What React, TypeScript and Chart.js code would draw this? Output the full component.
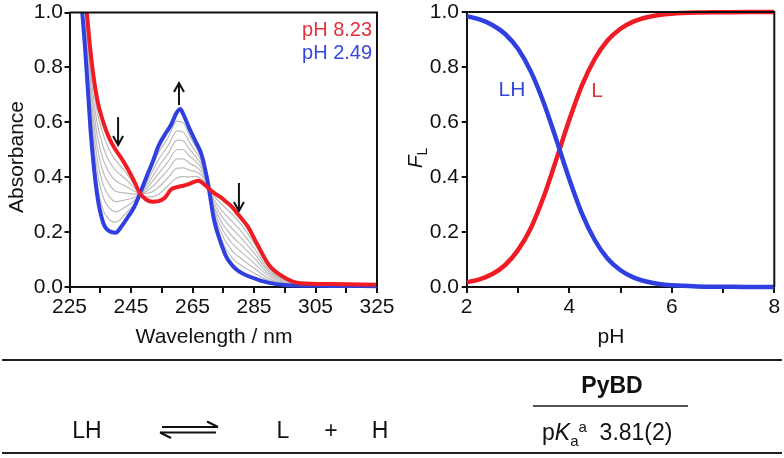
import React, { useEffect, useRef } from "react";
import { Chart, registerables } from "chart.js";

Chart.register(...registerables);

const FONT = '"Liberation Sans", Arial, Helvetica, sans-serif';
const RED = "#f01c24";
const BLUE = "#2f3fe0";
const RED_TEXT = "#e2303c";
const BLUE_TEXT = "#3448dc";
const GRAY = "#bcbcbc";
const INK = "#111111";

// ---------- Left panel: UV spectra ----------
const RED_NM = [230, 232, 234, 236, 238, 240, 242, 244, 246, 248, 250, 252, 254, 256, 258, 260, 262, 264, 266, 267, 268, 270, 272, 274, 276, 278, 280, 283, 286, 290, 295, 300, 310, 325];
const RED_ABS = [1.08, 0.841, 0.684, 0.6, 0.54, 0.5, 0.467, 0.429, 0.386, 0.34, 0.318, 0.311, 0.313, 0.325, 0.355, 0.364, 0.369, 0.376, 0.385, 0.387, 0.381, 0.362, 0.343, 0.328, 0.31, 0.29, 0.262, 0.22, 0.157, 0.078, 0.034, 0.014, 0.011, 0.008];

const BLUE_NM = [229, 230, 231, 232, 234, 236, 238, 240, 242, 244, 246, 248, 250, 252, 254, 256, 258, 260, 261, 262, 264, 266, 268, 270, 272, 274, 276, 278, 280, 283, 286, 290, 295, 300, 310, 325];
const BLUE_ABS = [1.02, 0.88, 0.715, 0.55, 0.335, 0.233, 0.203, 0.198, 0.222, 0.255, 0.29, 0.343, 0.4, 0.455, 0.515, 0.555, 0.59, 0.638, 0.648, 0.63, 0.577, 0.53, 0.48, 0.38, 0.245, 0.168, 0.11, 0.078, 0.058, 0.04, 0.028, 0.015, 0.007, 0.005, 0.004, 0.003];

const GRAY_NM = [230, 232, 234, 236, 238, 240, 243, 246, 248, 251, 254, 257, 260, 262, 264, 266, 268, 270, 272, 275, 278, 281, 285, 290, 295, 305, 325];
const GRAY_1 = [1.055, 0.805, 0.64, 0.554, 0.498, 0.462, 0.422, 0.374, 0.34, 0.328, 0.338, 0.369, 0.398, 0.402, 0.401, 0.403, 0.393, 0.364, 0.331, 0.296, 0.264, 0.225, 0.16, 0.068, 0.027, 0.01, 0.007];
const GRAY_2 = [1.03, 0.768, 0.597, 0.508, 0.456, 0.425, 0.396, 0.362, 0.341, 0.343, 0.364, 0.398, 0.433, 0.434, 0.426, 0.421, 0.406, 0.367, 0.318, 0.273, 0.237, 0.201, 0.142, 0.06, 0.025, 0.01, 0.007];
const GRAY_3 = [1.005, 0.732, 0.553, 0.462, 0.414, 0.387, 0.369, 0.35, 0.341, 0.357, 0.389, 0.427, 0.467, 0.467, 0.451, 0.439, 0.418, 0.369, 0.306, 0.25, 0.211, 0.176, 0.124, 0.053, 0.022, 0.009, 0.006];
const GRAY_4 = [0.98, 0.696, 0.51, 0.417, 0.372, 0.349, 0.343, 0.338, 0.341, 0.371, 0.414, 0.456, 0.501, 0.5, 0.477, 0.458, 0.431, 0.371, 0.294, 0.227, 0.184, 0.151, 0.106, 0.045, 0.019, 0.008, 0.006];
const GRAY_5 = [0.955, 0.659, 0.466, 0.371, 0.329, 0.311, 0.317, 0.326, 0.342, 0.385, 0.439, 0.485, 0.535, 0.532, 0.502, 0.476, 0.443, 0.373, 0.282, 0.204, 0.158, 0.126, 0.087, 0.038, 0.016, 0.007, 0.005];
const GRAY_6 = [0.93, 0.623, 0.422, 0.325, 0.287, 0.274, 0.291, 0.314, 0.342, 0.4, 0.465, 0.514, 0.569, 0.565, 0.527, 0.494, 0.455, 0.376, 0.27, 0.181, 0.131, 0.102, 0.069, 0.03, 0.013, 0.006, 0.004];
const GRAY_7 = [0.905, 0.586, 0.379, 0.279, 0.245, 0.236, 0.264, 0.302, 0.343, 0.414, 0.49, 0.543, 0.604, 0.598, 0.552, 0.512, 0.468, 0.378, 0.257, 0.158, 0.105, 0.077, 0.051, 0.023, 0.01, 0.005, 0.004];
const GRAY_SERIES = [GRAY_1, GRAY_2, GRAY_3, GRAY_4, GRAY_5, GRAY_6, GRAY_7];

const NM_TICKS = [225, 235, 245, 255, 265, 275, 285, 295, 305, 315, 325];
const NM_LABELS = [225, 245, 265, 285, 305, 325];
const ABS_TICKS = [0, 0.2, 0.4, 0.6, 0.8, 1.0];

const SPECTRA_LABELS = [
  { text: "pH 8.23", x: 323.4, y: 0.933, color: RED_TEXT },
  { text: "pH 2.49", x: 323.4, y: 0.849, color: BLUE_TEXT },
];
const SPECTRA_ARROWS = [
  { x: 240.8, from: 0.619, to: 0.517 },
  { x: 260.6, from: 0.663, to: 0.743 },
  { x: 280.1, from: 0.379, to: 0.277 },
];

// ---------- Right panel: speciation ----------
const PH = [2, 2.25, 2.5, 2.75, 3, 3.25, 3.5, 3.75, 4, 4.25, 4.5, 4.75, 5, 5.25, 5.5, 5.75, 6, 6.5, 7, 7.5, 8];
const FRAC_L = [0.017, 0.028, 0.047, 0.08, 0.134, 0.214, 0.327, 0.465, 0.607, 0.734, 0.83, 0.897, 0.939, 0.965, 0.98, 0.989, 0.994, 0.998, 0.999, 1.0, 1.0];
const FRAC_LH = [0.985, 0.973, 0.953, 0.92, 0.866, 0.784, 0.671, 0.535, 0.393, 0.266, 0.17, 0.103, 0.061, 0.035, 0.02, 0.011, 0.006, 0.002, 0.001, 0.0, 0.0];

const PH_TICKS = [2, 3, 4, 5, 6, 7, 8];
const PH_LABELS = [2, 4, 6, 8];
const FRAC_TICKS = [0, 0.2, 0.4, 0.6, 0.8, 1.0];

const SPECIES_LABELS = [
  { text: "LH", x: 2.884, y: 0.716, color: BLUE_TEXT },
  { text: "L", x: 4.545, y: 0.713, color: RED_TEXT },
];

const toXY = (xs: number[], ys: number[]) => xs.map((x, i) => ({ x, y: ys[i] }));

function xAxis(min: number, max: number, ticks: number[], labels: number[]) {
  return {
    type: "linear",
    position: "bottom",
    min,
    max,
    afterBuildTicks: (s: any) => {
      s.ticks = ticks.map((v) => ({ value: v }));
    },
    afterFit: (s: any) => {
      s.height = 63;
      s.paddingLeft = 0;
      s.paddingRight = 0;
    },
    ticks: {
      autoSkip: false,
      maxRotation: 0,
      minRotation: 0,
      padding: 1.5,
      color: INK,
      font: { family: FONT, size: 21 },
      callback: (v: any) => (labels.includes(Number(v)) ? String(v) : ""),
    },
    grid: { drawOnChartArea: false, drawTicks: true, tickLength: 6, color: INK, lineWidth: 2 },
    border: { display: true, color: INK, width: 2 },
  };
}

function yAxis(ticks: number[], width: number, pad: number) {
  return {
    type: "linear",
    position: "left",
    min: 0,
    max: 1,
    afterBuildTicks: (s: any) => {
      s.ticks = ticks.map((v) => ({ value: v }));
    },
    afterFit: (s: any) => {
      s.width = width;
      s.paddingTop = 0;
      s.paddingBottom = 0;
    },
    ticks: {
      autoSkip: false,
      padding: pad,
      color: INK,
      font: { family: FONT, size: 21 },
      callback: (v: any) => Number(v).toFixed(1),
    },
    grid: { drawOnChartArea: false, drawTicks: true, tickLength: 5, color: INK, lineWidth: 2 },
    border: { display: true, color: INK, width: 2 },
  };
}

function drawBox(chart: any) {
  const { ctx, chartArea: a } = chart;
  ctx.save();
  ctx.strokeStyle = INK;
  ctx.lineWidth = 2;
  ctx.beginPath();
  ctx.moveTo(a.left, a.top);
  ctx.lineTo(a.right, a.top);
  ctx.lineTo(a.right, a.bottom);
  ctx.stroke();
  ctx.restore();
}

function drawText(ctx: any, text: string, x: number, y: number, size: number, color: string, align = "center", rot = 0, style = "") {
  ctx.save();
  ctx.translate(x, y);
  if (rot) ctx.rotate(rot);
  ctx.font = `${style}${size}px ${FONT}`;
  ctx.fillStyle = color;
  ctx.textAlign = align;
  ctx.textBaseline = "middle";
  ctx.fillText(text, 0, 0);
  ctx.restore();
}

const spectraPlugin = {
  id: "spectraDecor",
  afterDraw(chart: any) {
    const { ctx, scales } = chart;
    const sx = scales.x;
    const sy = scales.y;
    drawBox(chart);
    SPECTRA_LABELS.forEach((l) => {
      drawText(ctx, l.text, sx.getPixelForValue(l.x), sy.getPixelForValue(l.y), 20, l.color, "right");
    });
    ctx.save();
    ctx.strokeStyle = INK;
    ctx.lineWidth = 2;
    SPECTRA_ARROWS.forEach((a) => {
      const xp = sx.getPixelForValue(a.x);
      const y0 = sy.getPixelForValue(a.from);
      const y1 = sy.getPixelForValue(a.to);
      const dir = Math.sign(y1 - y0);
      ctx.beginPath();
      ctx.moveTo(xp, y0);
      ctx.lineTo(xp, y1);
      ctx.stroke();
      ctx.beginPath();
      ctx.moveTo(xp - 5, y1 - dir * 9);
      ctx.lineTo(xp, y1);
      ctx.lineTo(xp + 5, y1 - dir * 9);
      ctx.stroke();
    });
    ctx.restore();
    drawText(ctx, "Wavelength / nm", 214, 337, 21, INK);
    drawText(ctx, "Absorbance", 17.5, 157, 21, INK, "center", -Math.PI / 2);
  },
};

const speciesPlugin = {
  id: "speciesDecor",
  afterDraw(chart: any) {
    const { ctx, scales } = chart;
    const sx = scales.x;
    const sy = scales.y;
    drawBox(chart);
    SPECIES_LABELS.forEach((l) => {
      drawText(ctx, l.text, sx.getPixelForValue(l.x), sy.getPixelForValue(l.y), 21, l.color, "center");
    });
    drawText(ctx, "pH", 219, 337, 21, INK);
    ctx.save();
    ctx.translate(30, 158);
    ctx.rotate(-Math.PI / 2);
    ctx.fillStyle = INK;
    ctx.textBaseline = "alphabetic";
    ctx.textAlign = "left";
    ctx.font = `italic 21px ${FONT}`;
    const wF = ctx.measureText("F").width;
    ctx.font = `14px ${FONT}`;
    const wL = ctx.measureText("L").width;
    const x0 = -(wF + wL) / 2;
    ctx.font = `italic 21px ${FONT}`;
    ctx.fillText("F", x0, 0);
    ctx.font = `14px ${FONT}`;
    ctx.fillText("L", x0 + wF, 5);
    ctx.restore();
  },
};

const lineDefaults = {
  pointRadius: 0,
  pointHoverRadius: 0,
  fill: false,
  cubicInterpolationMode: "monotone",
  borderJoinStyle: "round",
  clip: { left: 0, top: 0, right: 0, bottom: 4 },
};

export default function App() {
  const leftRef = useRef<HTMLCanvasElement>(null);
  const rightRef = useRef<HTMLCanvasElement>(null);

  useEffect(() => {
    const left = new Chart(leftRef.current as HTMLCanvasElement, {
      type: "line",
      data: {
        datasets: [
          { ...lineDefaults, label: "pH 8.23", data: toXY(RED_NM, RED_ABS), borderColor: RED, borderWidth: 4 },
          { ...lineDefaults, label: "pH 2.49", data: toXY(BLUE_NM, BLUE_ABS), borderColor: BLUE, borderWidth: 4 },
          ...GRAY_SERIES.map((g, i) => ({
            ...lineDefaults,
            label: `intermediate ${i + 1}`,
            data: toXY(GRAY_NM, g),
            borderColor: GRAY,
            borderWidth: 1.2,
          })),
        ],
      } as any,
      options: {
        responsive: false,
        animation: false,
        events: [],
        layout: { padding: { left: 0, right: 33, top: 12.5, bottom: 0 } },
        plugins: { legend: { display: false }, tooltip: { enabled: false }, title: { display: false } },
        scales: {
          x: xAxis(225, 325, NM_TICKS, NM_LABELS),
          y: yAxis(ABS_TICKS, 69.5, 1.5),
        },
      } as any,
      plugins: [spectraPlugin],
    });

    const right = new Chart(rightRef.current as HTMLCanvasElement, {
      type: "line",
      data: {
        datasets: [
          { ...lineDefaults, label: "LH", data: toXY(PH, FRAC_LH), borderColor: BLUE, borderWidth: 4.5, clip: { left: 0, top: 4, right: 0, bottom: 4 } },
          { ...lineDefaults, label: "L", data: toXY(PH, FRAC_L), borderColor: RED, borderWidth: 4.5, clip: { left: 0, top: 4, right: 0, bottom: 4 } },
        ],
      } as any,
      options: {
        responsive: false,
        animation: false,
        events: [],
        layout: { padding: { left: 0, right: 9.7, top: 12, bottom: 0 } },
        plugins: { legend: { display: false }, tooltip: { enabled: false }, title: { display: false } },
        scales: {
          x: xAxis(2, 8, PH_TICKS, PH_LABELS),
          y: yAxis(FRAC_TICKS, 74.7, 2.7),
        },
      } as any,
      plugins: [speciesPlugin],
    });

    return () => {
      left.destroy();
      right.destroy();
    };
  }, []);

  const txt = (x: number, y: number, size: number, content: any, bold = false) => (
    <div
      style={{
        position: "absolute",
        left: x,
        top: y,
        transform: "translate(-50%, -50%)",
        fontSize: size,
        fontWeight: bold ? 700 : 400,
        lineHeight: 1,
        whiteSpace: "nowrap",
      }}
    >
      {content}
    </div>
  );

  return (
    <div
      style={{
        position: "absolute",
        left: 0,
        top: 0,
        width: 784,
        height: 458,
        background: "#ffffff",
        fontFamily: FONT,
        color: INK,
        overflow: "hidden",
      }}
    >
      <canvas ref={leftRef} width={410} height={350} style={{ position: "absolute", left: 0, top: 0 }} />
      <canvas ref={rightRef} width={392} height={350} style={{ position: "absolute", left: 392, top: 0 }} />
      <svg width={784} height={458} style={{ position: "absolute", left: 0, top: 0 }}>
        <line x1={2} y1={360} x2={782} y2={360} stroke="#222" strokeWidth={2} />
        <line x1={2} y1={453} x2={782} y2={453} stroke="#222" strokeWidth={2} />
        <line x1={533} y1={406} x2={688} y2={406} stroke="#555" strokeWidth={2} />
        <line x1={162} y1={427} x2={218} y2={427} stroke={INK} strokeWidth={2} />
        <line x1={218} y1={427} x2={207} y2={421.5} stroke={INK} strokeWidth={2} />
        <line x1={160} y1={432.5} x2={216} y2={432.5} stroke={INK} strokeWidth={2} />
        <line x1={160} y1={432.5} x2={171} y2={438} stroke={INK} strokeWidth={2} />
      </svg>
      {txt(87, 430, 23, "LH")}
      {txt(283, 430, 23, "L")}
      {txt(331, 430, 23, "+")}
      {txt(380, 430, 23, "H")}
      {txt(612, 385, 23, "PyBD", true)}
      <div
        style={{
          position: "absolute",
          left: 542,
          top: 432,
          transform: "translateY(-50%)",
          fontSize: 23,
          lineHeight: 1,
          whiteSpace: "nowrap",
        }}
      >
        p<i>K</i>
        <span style={{ fontSize: 15, position: "relative", top: 6 }}>a</span>
        <span style={{ fontSize: 15, position: "relative", top: -8 }}>a</span>
        {"\u00a0\u00a03.81(2)"}
      </div>
    </div>
  );
}
